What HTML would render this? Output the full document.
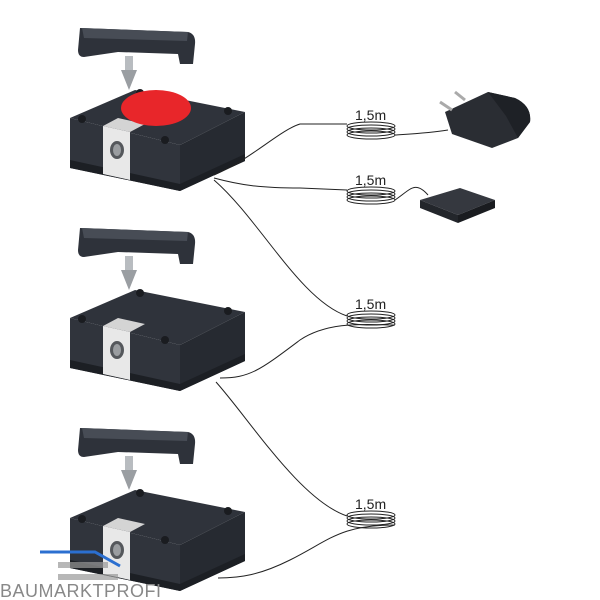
<!DOCTYPE html>
<html><head><meta charset="utf-8"><style>
html,body{margin:0;padding:0;background:#fff;width:600px;height:600px;overflow:hidden}
svg{display:block}
text{font-family:"Liberation Sans",sans-serif}
</style></head><body>
<svg width="600" height="600" viewBox="0 0 600 600" xmlns="http://www.w3.org/2000/svg">
<defs>
<g id="lock">
  <!-- handle -->
  <path d="M80,228 L188,232 Q196,234 195,244 L193,264 L180,264 L178,254 L118,252 L84,257 Q78,257 78,250 Z" fill="#2e323a"/>
  <path d="M82,228 L188,232 L187,241 L84,238 Z" fill="#474c55"/>
  <!-- pin -->
  <rect x="125" y="256" width="8" height="14" fill="#b8bcc0"/>
  <path d="M121,270 L137,270 L129,290 Z" fill="#9a9ea2"/>
  <!-- top face -->
  <path d="M70,318 L135,290 L245,312 L180,345 Z" fill="#2f333b"/>
  <!-- front face -->
  <path d="M70,318 L180,345 L180,391 L70,368 Z" fill="#30343c"/>
  <!-- right face -->
  <path d="M180,345 L245,312 L245,361 L180,391 Z" fill="#262a31"/>
  <path d="M70,360 L180,384 L245,354 L245,361 L180,391 L70,368 Z" fill="#1c1f24"/>
  <!-- white block -->
  <path d="M103,326 L130,332 L130,380 L103,374 Z" fill="#e8e8e8"/>
  <path d="M103,326 L118,318 L145,324 L130,332 Z" fill="#d4d4d4"/>
  <ellipse cx="117" cy="350" rx="7" ry="9" fill="#55585c"/>
  <ellipse cx="117" cy="350" rx="4" ry="6" fill="#9a9da0"/>
  <circle cx="82" cy="319" r="4" fill="#1a1c20"/>
  <circle cx="228" cy="311" r="4" fill="#1a1c20"/>
  <circle cx="165" cy="340" r="4" fill="#1a1c20"/>
  <circle cx="140" cy="293" r="4" fill="#1a1c20"/>
</g>
<g id="coil" fill="none" stroke="#222" stroke-width="1">
  <ellipse cx="371" cy="0" rx="24" ry="4"/>
  <ellipse cx="371" cy="3" rx="24" ry="4"/>
  <ellipse cx="371" cy="6" rx="24" ry="4"/>
  <ellipse cx="371" cy="9" rx="24" ry="4"/>
</g>
</defs>

<use href="#lock" transform="translate(0,-200)"/>
<ellipse cx="156" cy="108" rx="35" ry="18" fill="#e8262a"/>
<use href="#lock"/>
<use href="#lock" transform="translate(0,200)"/>

<!-- wires -->
<g fill="none" stroke="#222" stroke-width="1">
  <path d="M214,175 C250,160 280,130 300,124 L347,124"/>
  <path d="M395,135 C410,134 430,133 448,130"/>
  <path d="M214,178 C240,185 260,188 300,188 L347,190"/>
  <path d="M395,200 C410,190 415,180 428,195"/>
  <path d="M214,180 C260,220 300,300 347,316"/>
  <path d="M395,325 C370,325 330,320 300,340 C260,370 250,378 220,378"/>
  <path d="M216,382 C250,420 300,500 347,516"/>
  <path d="M395,525 C340,525 330,540 290,560 C260,575 240,578 218,578"/>
</g>
<use href="#coil" transform="translate(0,126)"/>
<use href="#coil" transform="translate(0,191)"/>
<use href="#coil" transform="translate(0,315)"/>
<use href="#coil" transform="translate(0,515)"/>
<g font-size="14" fill="#222">
  <text x="355" y="120">1,5m</text>
  <text x="355" y="185">1,5m</text>
  <text x="355" y="309">1,5m</text>
  <text x="355" y="509">1,5m</text>
</g>

<!-- adapter -->
<path d="M445,112 L488,92 L515,98 Q532,106 530,122 L518,138 L492,148 L452,134 Z" fill="#2a2d33"/>
<path d="M488,92 L515,98 Q532,106 530,122 L518,138 L506,116 Z" fill="#1e2126"/>
<line x1="440" y1="102" x2="452" y2="110" stroke="#aaa" stroke-width="3"/>
<line x1="455" y1="92" x2="465" y2="100" stroke="#aaa" stroke-width="3"/>
<!-- small box -->
<path d="M420,200 L460,188 L495,200 L458,215 Z" fill="#35383f"/>
<path d="M420,200 L458,215 L458,223 L420,208 Z" fill="#23262b"/>
<path d="M458,215 L495,200 L495,208 L458,223 Z" fill="#1a1c20"/>

<!-- logo -->
<path d="M40,552 L95,552 L120,566" fill="none" stroke="#2b6fd0" stroke-width="3"/>
<rect x="58" y="562" width="50" height="6" fill="#999" opacity="0.7"/>
<rect x="58" y="574" width="60" height="6" fill="#999" opacity="0.7"/>
<text x="0" y="597" font-size="18" fill="#888" letter-spacing="0.5">BAUMARKTPROFI</text>
</svg>
</body></html>
